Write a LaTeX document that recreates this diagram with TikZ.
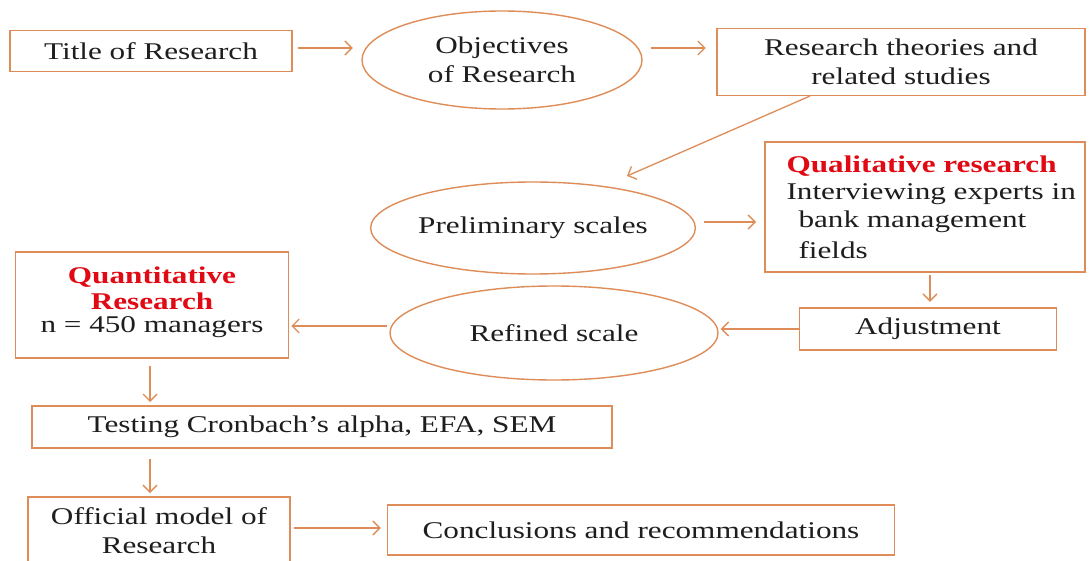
\documentclass[tikz,border=0pt]{standalone}
\usepackage{fontspec}
\setmainfont{Liberation Serif}[FakeStretch=1.30]
\usetikzlibrary{arrows.meta,shapes.geometric}
\definecolor{ob}{RGB}{222,140,88}
\definecolor{tx}{RGB}{30,30,30}
\definecolor{rd}{RGB}{225,10,20}
\tikzset{
  bx/.style={draw=ob,line width=1.6pt,fill=white,text=tx,inner sep=0pt},
  el/.style={draw=ob,line width=1.4pt,ellipse,text=tx,inner sep=0pt},
  ar/.style={draw=ob,line width=1.3pt,-{Straight Barb[length=7pt,width=14pt,line width=1.3pt]}},
  txt/.style={text=tx,font=\fontsize{24}{29}\selectfont},
  rtx/.style={text=rd,font=\fontsize{24}{26}\selectfont\bfseries},
}
\begin{document}
\begin{tikzpicture}[x=1pt,y=-1pt]
\useasboundingbox (0,0) rectangle (1089,561);
\fill[white] (0,0) rectangle (1089,561);
% nodes
\node[bx,minimum width=282pt,minimum height=41pt,txt] (title) at (151,51) {Title of Research};
\node[el,minimum width=280pt,minimum height=98pt,txt,align=center] (obj) at (502,60) {Objectives\\of Research};
\node[bx,minimum width=368pt,minimum height=67pt,txt,align=center] (theo) at (901,62) {Research theories and\\related studies};
\node[el,minimum width=316pt,minimum height=92pt,txt] (prel) at (533,228) {Preliminary scales};
\node[bx,minimum width=320pt,minimum height=130pt] (qual) at (925,207) {};
\node[rtx,anchor=west] (qualt) at (783,166) {Qualitative research};
\node[txt,anchor=west] (q1) at (783,194) {Interviewing experts in};
\node[txt,anchor=west] (q2) at (795,222) {bank management};
\node[txt,anchor=west] (q3) at (795,250) {fields};
\node[bx,minimum width=257pt,minimum height=42pt,txt] (adj) at (928,329) {Adjustment};
\node[el,minimum width=328pt,minimum height=94pt,txt] (ref) at (554,333) {Refined scale};
\node[bx,minimum width=273pt,minimum height=106pt] (quan) at (152,305) {};
\node[rtx,align=center] (quant) at (152,288) {Quantitative\\Research};
\node[txt] (quann) at (152,327) {n = 450 managers};
\node[bx,minimum width=580pt,minimum height=42pt,txt] (test) at (322,427) {Testing Cronbach’s alpha, EFA, SEM};
\node[bx,minimum width=262pt,minimum height=68pt,txt,align=center] (off) at (159,531) {Official model of\\Research};
\node[bx,minimum width=507pt,minimum height=50pt,txt] (conc) at (641,530) {Conclusions and recommendations};
% connectors
\draw[ar] (title.east)++(5,-3) -- ++(55,0);
\draw[ar] (obj.east)++(8,-12) -- ++(55,0);
\draw[ar] (810,96) -- (627,176);
\draw[ar] (prel.east)++(8,-6) -- ++(52,0);
\draw[ar] (qual.south-|adj.north)++(2,2) -- ++(0,27);
\draw[ar] (adj.west) -- ++(-78,0);
\draw[ar] (ref.west)++(-2,-7) -- ++(-96,0);
\draw[ar] (150,366) -- (150,402);
\draw[ar] (150,459) -- (150,493);
\draw[ar] (off.east)++(3,-3) -- ++(87,0);
\end{tikzpicture}
\end{document}
